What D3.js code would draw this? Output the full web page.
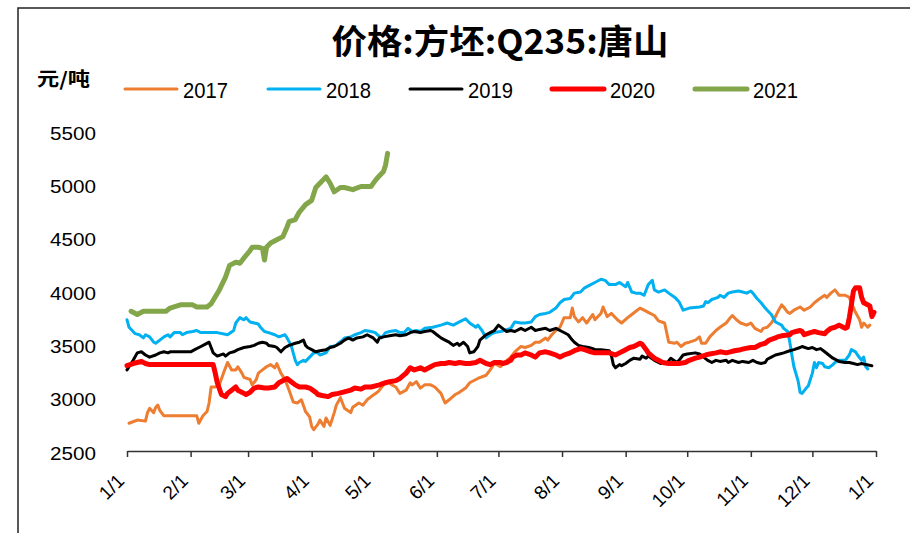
<!DOCTYPE html>
<html><head><meta charset="utf-8">
<script src="https://cdn.jsdelivr.net/npm/d3@7"></script>
<style>body{margin:0;background:#fff}svg{display:block}</style>
</head><body>
<svg id="chart" width="910" height="533"></svg>
<script>
const titleText = "价格:方坯:Q235:唐山";
const unitText = "元/吨";
const seriesNames = ["2017","2018","2019","2020","2021"];
const seriesColors = ["#ED7D31","#00B0F0","#000000","#FF0000","#83A64A"];
const seriesWidths = [3,3,3,5,5];
const yTicks = [2500,3000,3500,4000,4500,5000,5500];
const xTickLabels = ["1/1","2/1","3/1","4/1","5/1","6/1","7/1","8/1","9/1","10/1","11/1","12/1","1/1"];

const s2017 = [["1/2",2760],["1/6",2790],["1/10",2780],["1/11",2860],["1/12",2900],["1/14",2860],["1/15",2910],["1/16",2930],["1/17",2880],["1/19",2830],["2/4",2830],["2/5",2760],["2/7",2830],["2/9",2870],["2/10",2950],["2/11",3100],["2/13",3100],["2/15",3120],["2/17",3230],["2/19",3330],["2/21",3260],["2/23",3260],["2/24",3290],["2/26",3230],["2/27",3190],["3/2",3170],["3/3",3120],["3/5",3170],["3/6",3230],["3/8",3260],["3/10",3290],["3/12",3310],["3/14",3280],["3/15",3320],["3/17",3230],["3/19",3170],["3/21",3070],["3/23",2960],["3/25",2950],["3/27",2980],["3/29",2870],["3/31",2820],["4/1",2730],["4/2",2700],["4/4",2750],["4/5",2790],["4/7",2730],["4/8",2810],["4/10",2740],["4/12",2860],["4/13",2930],["4/15",3000],["4/17",2900],["4/20",2860],["4/21",2910],["4/24",2950],["4/26",2930],["4/28",2980],["4/30",3010],["5/3",3050],["5/4",3070],["5/6",3120],["5/8",3150],["5/10",3120],["5/12",3100],["5/14",3040],["5/17",3070],["5/19",3140],["5/20",3120],["5/22",3150],["5/24",3090],["5/26",3120],["5/29",3120],["5/31",3100],["6/3",3040],["6/5",2950],["6/7",2980],["6/10",3030],["6/12",3050],["6/15",3090],["6/17",3140],["6/21",3180],["6/25",3210],["6/27",3260],["6/29",3320],["7/2",3290],["7/4",3330],["7/7",3380],["7/9",3430],["7/12",3480],["7/14",3470],["7/17",3490],["7/19",3520],["7/21",3520],["7/24",3560],["7/25",3540],["7/27",3590],["7/29",3630],["7/31",3660],["8/2",3750],["8/5",3750],["8/6",3840],["8/7",3760],["8/9",3710],["8/11",3750],["8/13",3700],["8/16",3780],["8/17",3730],["8/20",3790],["8/21",3850],["8/23",3760],["8/25",3790],["8/28",3730],["8/30",3700],["9/2",3750],["9/4",3780],["9/6",3810],["9/8",3840],["9/10",3820],["9/12",3800],["9/15",3770],["9/17",3720],["9/20",3700],["9/21",3610],["9/22",3520],["9/25",3510],["9/26",3520],["9/28",3480],["9/30",3510],["10/2",3520],["10/5",3540],["10/7",3570],["10/8",3510],["10/10",3510],["10/12",3570],["10/15",3630],["10/17",3660],["10/20",3700],["10/22",3750],["10/23",3770],["10/25",3730],["10/27",3700],["10/30",3680],["11/1",3700],["11/3",3650],["11/6",3620],["11/7",3650],["11/9",3660],["11/11",3700],["11/13",3760],["11/14",3800],["11/16",3870],["11/17",3850],["11/19",3800],["11/20",3790],["11/22",3820],["11/25",3850],["11/27",3820],["11/30",3850],["12/2",3890],["12/4",3920],["12/7",3960],["12/8",3940],["12/10",3980],["12/12",4010],["12/14",3960],["12/17",3960],["12/19",3940],["12/20",3890],["12/22",3800],["12/24",3730],["12/25",3660],["12/26",3700],["12/28",3660],["12/29",3680]];

const s2018 = [["1/1",3730],["1/2",3660],["1/5",3600],["1/7",3590],["1/9",3560],["1/10",3590],["1/12",3570],["1/14",3520],["1/15",3510],["1/17",3540],["1/19",3570],["1/21",3590],["1/22",3570],["1/24",3610],["1/27",3610],["1/28",3590],["1/30",3610],["2/2",3620],["2/4",3630],["2/6",3610],["2/14",3610],["2/19",3590],["2/22",3630],["2/23",3700],["2/25",3750],["2/27",3730],["2/28",3750],["3/2",3710],["3/4",3700],["3/6",3690],["3/7",3660],["3/9",3620],["3/11",3610],["3/14",3590],["3/16",3570],["3/19",3590],["3/20",3560],["3/22",3490],["3/23",3420],["3/24",3350],["3/25",3310],["3/26",3330],["3/28",3350],["3/29",3340],["3/31",3380],["4/2",3420],["4/4",3420],["4/5",3400],["4/8",3420],["4/9",3450],["4/10",3480],["4/11",3480],["4/13",3490],["4/14",3510],["4/16",3540],["4/17",3560],["4/20",3570],["4/22",3590],["4/25",3610],["4/27",3630],["4/30",3620],["5/2",3610],["5/3",3590],["5/5",3560],["5/7",3610],["5/9",3620],["5/12",3630],["5/14",3610],["5/16",3610],["5/18",3650],["5/20",3620],["5/22",3630],["5/24",3620],["5/26",3650],["5/30",3660],["6/3",3680],["6/6",3700],["6/9",3680],["6/12",3710],["6/15",3740],["6/17",3700],["6/20",3660],["6/21",3680],["6/23",3630],["6/25",3560],["6/27",3590],["6/29",3610],["7/2",3620],["7/4",3630],["7/7",3650],["7/9",3710],["7/12",3700],["7/14",3700],["7/17",3710],["7/19",3760],["7/21",3780],["7/24",3790],["7/26",3800],["7/29",3840],["7/31",3890],["8/2",3920],["8/5",3930],["8/7",3980],["8/10",3990],["8/12",4030],["8/15",4060],["8/17",4080],["8/20",4110],["8/22",4100],["8/24",4060],["8/27",4060],["8/29",4080],["9/1",4040],["9/2",4080],["9/4",3990],["9/6",3980],["9/8",3980],["9/10",3960],["9/11",4010],["9/12",4060],["9/14",4100],["9/15",4010],["9/17",3990],["9/20",4010],["9/22",3980],["9/25",3940],["9/27",3900],["9/29",3820],["10/2",3840],["10/7",3850],["10/9",3860],["10/10",3900],["10/11",3890],["10/13",3920],["10/16",3940],["10/17",3960],["10/19",3940],["10/21",3980],["10/23",3990],["10/26",4000],["10/28",3990],["10/30",3980],["11/1",4000],["11/2",3980],["11/4",3930],["11/6",3890],["11/8",3840],["11/9",3820],["11/11",3780],["11/13",3710],["11/14",3700],["11/16",3680],["11/17",3650],["11/19",3620],["11/20",3520],["11/21",3400],["11/22",3290],["11/24",3160],["11/25",3050],["11/26",3040],["11/28",3090],["11/29",3110],["11/30",3170],["12/1",3230],["12/2",3330],["12/3",3280],["12/4",3330],["12/6",3320],["12/7",3290],["12/9",3280],["12/11",3310],["12/12",3330],["12/14",3350],["12/17",3350],["12/19",3400],["12/20",3450],["12/22",3430],["12/23",3400],["12/25",3350],["12/26",3380],["12/27",3290],["12/28",3270]];

const s2019 = [["1/1",3260],["1/2",3290],["1/4",3350],["1/6",3420],["1/8",3430],["1/10",3400],["1/12",3380],["1/15",3400],["1/17",3420],["1/19",3430],["1/21",3420],["1/22",3430],["2/1",3430],["2/3",3450],["2/6",3480],["2/8",3500],["2/10",3520],["2/11",3470],["2/12",3420],["2/14",3390],["2/17",3410],["2/18",3390],["2/20",3420],["2/22",3430],["2/24",3450],["2/27",3470],["3/2",3480],["3/4",3490],["3/6",3510],["3/8",3520],["3/10",3510],["3/11",3490],["3/14",3480],["3/15",3470],["3/17",3430],["3/19",3470],["3/21",3490],["3/24",3510],["3/26",3520],["3/28",3540],["3/29",3490],["3/30",3470],["4/1",3450],["4/3",3430],["4/5",3440],["4/8",3450],["4/10",3470],["4/12",3480],["4/15",3510],["4/17",3540],["4/19",3560],["4/21",3540],["4/23",3560],["4/26",3570],["4/28",3590],["4/30",3570],["5/1",3560],["5/3",3520],["5/4",3560],["5/6",3570],["5/9",3580],["5/12",3590],["5/14",3580],["5/17",3590],["5/19",3610],["5/21",3620],["5/24",3610],["5/26",3620],["5/29",3630],["5/30",3620],["6/1",3590],["6/3",3560],["6/5",3540],["6/7",3520],["6/9",3490],["6/11",3510],["6/12",3490],["6/14",3520],["6/16",3480],["6/17",3420],["6/19",3430],["6/21",3480],["6/22",3540],["6/25",3590],["6/27",3610],["6/29",3630],["7/1",3680],["7/3",3650],["7/5",3620],["7/7",3630],["7/9",3620],["7/12",3650],["7/14",3630],["7/17",3660],["7/19",3630],["7/21",3640],["7/24",3650],["7/26",3630],["7/29",3650],["7/31",3630],["8/1",3620],["8/4",3590],["8/6",3540],["8/7",3520],["8/9",3490],["8/11",3480],["8/14",3470],["8/16",3460],["8/17",3450],["8/20",3450],["8/24",3440],["8/25",3400],["8/26",3310],["8/27",3280],["8/29",3310],["8/30",3300],["9/1",3320],["9/3",3350],["9/5",3370],["9/8",3360],["9/9",3390],["9/11",3370],["9/12",3390],["9/15",3350],["9/18",3320],["9/21",3320],["9/23",3370],["9/26",3330],["9/27",3350],["9/29",3400],["10/1",3410],["10/5",3420],["10/7",3410],["10/9",3380],["10/11",3350],["10/13",3330],["10/15",3350],["10/17",3340],["10/20",3350],["10/21",3330],["10/23",3350],["10/26",3330],["10/28",3340],["10/31",3330],["11/2",3350],["11/4",3330],["11/6",3320],["11/8",3330],["11/9",3360],["11/11",3380],["11/13",3400],["11/15",3410],["11/17",3420],["11/20",3440],["11/22",3450],["11/25",3470],["11/26",3480],["11/29",3460],["12/1",3470],["12/3",3450],["12/5",3460],["12/7",3430],["12/9",3400],["12/11",3370],["12/14",3340],["12/17",3330],["12/19",3330],["12/21",3320],["12/23",3310],["12/25",3320],["12/27",3310],["12/30",3300]];

const s2020 = [["1/1",3300],["1/4",3320],["1/6",3330],["1/8",3340],["1/10",3320],["1/12",3310],["2/12",3310],["2/13",3230],["2/14",3140],["2/16",3030],["2/18",3010],["2/19",3040],["2/21",3070],["2/23",3100],["2/24",3070],["2/27",3040],["2/28",3030],["3/2",3050],["3/4",3090],["3/6",3100],["3/9",3090],["3/11",3090],["3/14",3100],["3/16",3140],["3/19",3170],["3/20",3180],["3/22",3150],["3/24",3120],["3/26",3100],["3/29",3100],["3/31",3090],["4/3",3050],["4/4",3030],["4/6",3020],["4/9",3010],["4/11",3030],["4/14",3040],["4/16",3050],["4/20",3070],["4/22",3090],["4/25",3080],["4/27",3100],["4/30",3100],["5/2",3110],["5/4",3120],["5/7",3140],["5/9",3150],["5/12",3160],["5/14",3180],["5/17",3230],["5/19",3280],["5/21",3260],["5/24",3280],["5/26",3260],["5/29",3290],["5/31",3310],["6/3",3320],["6/5",3320],["6/7",3330],["6/10",3320],["6/12",3330],["6/15",3320],["6/17",3320],["6/20",3330],["6/22",3350],["6/25",3320],["6/27",3310],["6/29",3330],["7/2",3330],["7/3",3320],["7/5",3330],["7/7",3350],["7/8",3380],["7/10",3400],["7/12",3400],["7/14",3420],["7/17",3400],["7/19",3380],["7/21",3420],["7/24",3430],["7/26",3420],["7/29",3400],["7/31",3380],["8/2",3400],["8/5",3420],["8/7",3440],["8/10",3460],["8/12",3450],["8/15",3430],["8/17",3420],["8/24",3420],["8/27",3400],["8/29",3420],["9/1",3450],["9/3",3470],["9/5",3480],["9/8",3510],["9/9",3500],["9/11",3450],["9/12",3420],["9/15",3370],["9/17",3350],["9/19",3330],["9/22",3320],["9/27",3320],["9/30",3330],["10/2",3350],["10/5",3370],["10/7",3380],["10/10",3400],["10/12",3410],["10/15",3420],["10/17",3430],["10/20",3420],["10/22",3430],["10/24",3440],["10/27",3450],["10/29",3460],["11/1",3470],["11/3",3470],["11/6",3500],["11/8",3510],["11/10",3540],["11/13",3560],["11/14",3570],["11/16",3580],["11/20",3590],["11/21",3610],["11/23",3620],["11/25",3630],["11/26",3620],["11/27",3590],["11/30",3610],["12/2",3620],["12/4",3610],["12/7",3600],["12/8",3620],["12/10",3650],["12/12",3660],["12/14",3680],["12/16",3660],["12/17",3650],["12/18",3660],["12/19",3750],["12/20",3870],["12/21",4000],["12/22",4030],["12/24",4030],["12/25",3940],["12/26",3890],["12/27",3880],["12/29",3860],["12/30",3760],["12/31",3800]];

const s2021 = [["1/3",3810],["1/6",3780],["1/9",3810],["1/20",3810],["1/22",3840],["1/27",3870],["2/2",3870],["2/4",3850],["2/9",3850],["2/11",3880],["2/15",4010],["2/18",4130],["2/20",4240],["2/23",4270],["2/25",4260],["2/27",4310],["3/2",4380],["3/3",4410],["3/6",4410],["3/8",4400],["3/9",4290],["3/10",4410],["3/12",4450],["3/15",4480],["3/18",4510],["3/20",4600],["3/21",4650],["3/24",4670],["3/26",4740],["3/29",4810],["4/1",4850],["4/3",4970],["4/5",5010],["4/8",5070],["4/10",5010],["4/12",4930],["4/15",4970],["4/17",4970],["4/21",4950],["4/25",4980],["4/30",4980],["5/1",5010],["5/3",5060],["5/6",5120],["5/7",5180],["5/8",5290]];

const allSeries = [s2017, s2018, s2019, s2020, s2021];

const svg = d3.select("#chart");
const parse = s => { const [m, d] = s.split("/").map(Number); return new Date(2021, m - 1, d); };

const x = d3.scaleTime().domain([new Date(2021,0,1), new Date(2022,0,1)]).range([127, 876]);
const y = d3.scaleLinear().domain([2500, 5500]).range([451, 131]);

// frame
svg.append("path").attr("d","M18,540 L18,8 L920,8").attr("fill","none").attr("stroke","#222").attr("stroke-width",1.5);

// title
svg.append("text").attr("x",500).attr("y",54).attr("text-anchor","middle")
  .attr("font-family","'Noto Sans CJK SC', sans-serif").attr("font-weight","bold").attr("font-size",34)
  .attr("textLength",337).attr("lengthAdjust","spacingAndGlyphs").attr("fill","#000").text(titleText);

// unit
svg.append("text").attr("x",37).attr("y",86)
  .attr("font-family","'Noto Sans CJK SC', sans-serif").attr("font-weight","bold").attr("font-size",19)
  .attr("textLength",53).attr("lengthAdjust","spacingAndGlyphs")
  .attr("fill","#000").text(unitText);

// legend
const legX = [125, 268, 410, 552, 695];
seriesNames.forEach((n,i)=>{
  const g = svg.append("g").attr("transform",`translate(${legX[i]},89)`);
  g.append("line").attr("x1",0).attr("x2",52).attr("y1",0).attr("y2",0)
    .attr("stroke",seriesColors[i]).attr("stroke-width",seriesWidths[i]).attr("stroke-linecap","round");
  g.append("text").attr("x",58).attr("y",9).attr("font-family","'Liberation Sans', Arial, sans-serif")
    .attr("font-size",22).attr("textLength",45).attr("lengthAdjust","spacingAndGlyphs").attr("fill","#000").text(n);
});

// y axis labels
const yAxis = svg.append("g").attr("transform","translate(96,0)")
  .call(d3.axisLeft(y).tickValues(yTicks).tickSize(0).tickPadding(0).tickFormat(d3.format("d")));
yAxis.select(".domain").remove();
yAxis.selectAll("text").attr("font-family","'Liberation Sans', Arial, sans-serif").attr("font-size",19)
  .attr("fill","#000").attr("dy",null).attr("y",8).attr("x",0).attr("textLength",46).attr("lengthAdjust","spacingAndGlyphs");

// x axis
const xTickDates = xTickLabels.map((l,i)=> new Date(2021, i, 1));
const xAxis = svg.append("g").attr("transform","translate(0,451)")
  .call(d3.axisBottom(x).tickValues(xTickDates).tickSizeInner(6).tickSizeOuter(0)
    .tickFormat((d,i)=> xTickLabels[i]));
xAxis.select(".domain").attr("stroke","#333").attr("stroke-width",1.5);
xAxis.selectAll(".tick line").attr("stroke","#333").attr("stroke-width",1.5);
xAxis.selectAll(".tick text").attr("font-family","'Liberation Sans', Arial, sans-serif").attr("font-size",19)
  .attr("fill","#000").attr("y",0).attr("dy",0).attr("x",0)
  .attr("transform","translate(-2,31) rotate(-45)").style("text-anchor","end");

// lines
const line = d3.line().x(d=>x(parse(d[0]))).y(d=>y(d[1]));
allSeries.forEach((s,i)=>{
  svg.append("path").datum(s).attr("d",line).attr("fill","none")
    .attr("stroke",seriesColors[i]).attr("stroke-width",seriesWidths[i])
    .attr("stroke-linejoin","round").attr("stroke-linecap","round");
});
</script>
</body></html>
